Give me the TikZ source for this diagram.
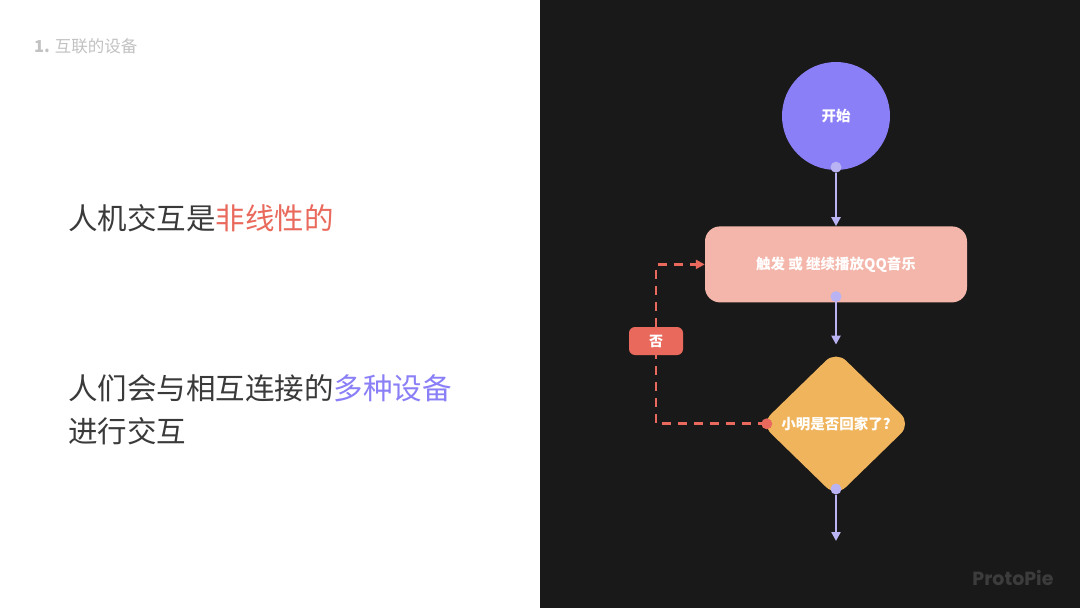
\documentclass[tikz,border=0pt]{standalone}
\usepackage{fontspec}
\setmainfont{Noto Sans CJK SC}
\newfontfamily\markfont{Poppins}
\usepackage{tikz}
\usetikzlibrary{positioning, arrows.meta, shapes.geometric}
\definecolor{panel}{HTML}{191919}
\definecolor{ink}{HTML}{3A3A3A}
\definecolor{mist}{HTML}{C2C2C2}
\definecolor{coral}{HTML}{E9695C}
\definecolor{violet}{HTML}{8A7FF7}
\definecolor{lavender}{HTML}{B9B3F3}
\definecolor{salmon}{HTML}{F4B6AA}
\definecolor{amber}{HTML}{F0B45C}
\definecolor{shadowmark}{HTML}{3C3C3C}
\tikzset{
  startcircle/.style={circle, fill=violet, minimum size=108pt, inner sep=0pt, text=white, font=\fontsize{14.5}{16}\selectfont\bfseries},
  actionbox/.style={rectangle, rounded corners=15pt, fill=salmon, minimum width=262pt, minimum height=76pt, inner sep=0pt, text=white, font=\fontsize{14.5}{16}\selectfont\bfseries},
  decisionbox/.style={diamond, rounded corners=14pt, fill=amber, minimum width=150pt, minimum height=146pt, inner sep=0pt, text=white, font=\fontsize{14.5}{16}\selectfont\bfseries},
  notag/.style={rectangle, rounded corners=6pt, fill=coral, minimum width=54pt, minimum height=28pt, inner sep=0pt, text=white, font=\fontsize{14}{16}\selectfont\bfseries},
  joint/.style={circle, fill=#1, minimum size=11pt, inner sep=0pt},
  link/.style={-{Triangle[length=9pt, width=9pt]}, line width=2.6pt, draw=lavender},
  loopback/.style={line width=2.8pt, draw=coral, dash pattern=on 9pt off 7pt},
  headline/.style={anchor=west, inner sep=0pt, text=ink, font=\fontsize{29.5}{43}\selectfont},
}
\begin{document}
\begin{tikzpicture}[x=1pt, y=-1pt]
  \useasboundingbox (0,0) rectangle (1080,608);
  \fill[white] (0,0) rectangle (540,608);
  \fill[panel] (540,0) rectangle (1080,608);

  % left side: slide texts
  \node[anchor=west, inner sep=0pt, text=mist, font=\fontsize{16.5}{18}\selectfont] (title) at (34,46) {\textbf{1.} 互联的设备};
  \node[headline] (lineone) at (68,218) {人机交互是\textcolor{coral}{非线性的}};
  \node[headline, align=left] (linetwo) at (68,410) {人们会与相互连接的\textcolor{violet}{多种设备}\\进行交互};

  % right side: flow chart
  \node[startcircle] (start) at (836,116) {开始};
  \node[actionbox, below=56pt of start] (play) {触发 或 继续播放QQ音乐};
  \node[decisionbox, below=48pt of play] (ask) {小明是否回家了?};
  \node[notag] (no) at (656,341) {否};
  \coordinate (stop) at ([yshift=-44pt]ask.south);

  \node[joint=lavender] (startjoint) at ([yshift=3pt]start.south) {};
  \node[joint=lavender] (playjoint) at ([yshift=6pt]play.south) {};
  \node[joint=lavender] (askjoint) at ([yshift=8pt]ask.south) {};

  \draw[link] (startjoint) -- (play.north);
  \draw[link, shorten >=6pt] (playjoint) -- (ask.north);
  \draw[link] (askjoint) -- (stop);

  % the "no" branch loops back
  \draw[loopback] ([xshift=6pt]ask.west) -| (no.south);
  \draw[loopback, -{Triangle[length=9pt, width=9pt]}] (no.north) |- (play.west);
  \node[joint=coral] (askjointno) at ([xshift=6pt]ask.west) {};

  \node[text=shadowmark, font=\markfont\bfseries\fontsize{19}{21}\selectfont] (mark) at (1013,578) {ProtoPie};
\end{tikzpicture}
\end{document}
